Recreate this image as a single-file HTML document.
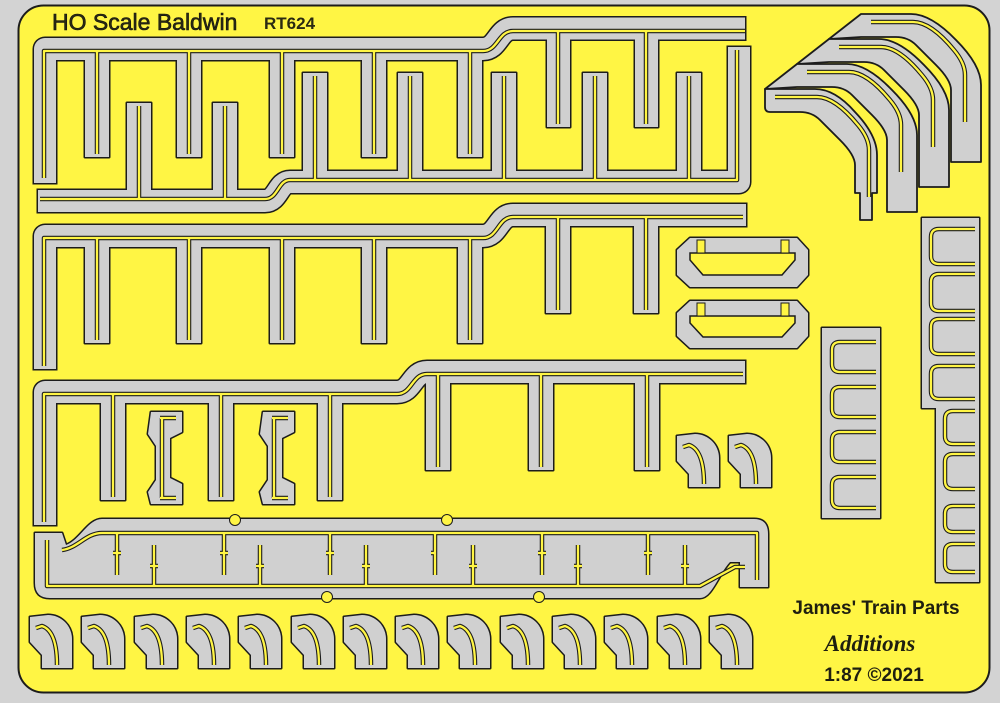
<!DOCTYPE html>
<html><head><meta charset="utf-8"><style>
html,body{margin:0;padding:0;background:#d3d3d3}
svg{display:block}
text{font-family:"Liberation Sans",sans-serif}
</style></head><body>
<svg width="1000" height="703" viewBox="0 0 1000 703" xmlns="http://www.w3.org/2000/svg">
<defs>
<path id="el" d="M0,2 L18,0 A24,24 0 0 1 42,24 L42,53 L12,53 L12,40 L0,27 Z"/>
<path id="pk" d="M733,114 L765,89 L815,89 Q835,89 860,115 Q885,140 885,160 L885,237 L855,237 L855,165 Q855,155 840,140 L820,120 Q812,112 800,112 L765,112 Z"/>
<g id="bars">
<path d="M45,172 L45,49 L483,49 C498,49 498,28.5 513,28.5 L734,28.5"/>
<path d="M49,201 L265,201 C278,201 278,182 290,182 L739,182 L739,58"/>
<path d="M45,358 L45,236 L483,236 C498,236 498,215 513,215 L735,215"/>
<path d="M45,514 L45,392 L397,392 C412,392 412,372 427,372 L734,372"/>
</g>
<g id="parts">
<rect x="85" y="49" width="24" height="108"/><rect x="177" y="49" width="24" height="108"/><rect x="270" y="49" width="24" height="108"/><rect x="362" y="49" width="24" height="108"/><rect x="458" y="49" width="24" height="108"/>
<rect x="547" y="28" width="23" height="99"/><rect x="635" y="28" width="23" height="99"/>
<rect x="127" y="103" width="24" height="98"/><rect x="213" y="103" width="24" height="98"/>
<rect x="303" y="73" width="24" height="109"/><rect x="398" y="73" width="24" height="109"/><rect x="492" y="73" width="24" height="109"/><rect x="583" y="73" width="24" height="109"/><rect x="677" y="73" width="24" height="109"/>
<rect x="85" y="236" width="24" height="107"/><rect x="177" y="236" width="24" height="107"/><rect x="270" y="236" width="24" height="107"/><rect x="362" y="236" width="24" height="107"/><rect x="458" y="236" width="24" height="107"/>
<rect x="546" y="215" width="24" height="98"/><rect x="634" y="215" width="24" height="98"/>
<rect x="101" y="392" width="24" height="108"/><rect x="209" y="392" width="24" height="108"/><rect x="318" y="392" width="24" height="108"/>
<rect x="426" y="372" width="24" height="98"/><rect x="529" y="372" width="24" height="98"/><rect x="635" y="372" width="24" height="98"/>
<polygon points="151,412 182,412 182,432 170,438 170,478 182,484 182,504 151,504 148,492 156,480 156,446 148,434"/>
<polygon points="263,412 294,412 294,432 282,438 282,478 294,484 294,504 263,504 260,492 268,480 268,446 260,434"/>
<polygon points="690,238 797,238 808,250 808,275 797,287 690,287 677,275 677,250"/>
<polygon points="690,301 797,301 808,313 808,336 797,348 690,348 677,336 677,313"/>
<path d="M35,533 L62,533 L66,545 C80,540 88,519 102,519 L754,519 Q768,519 768,534 L768,587 L740,587 L740,562 L730,562 C718,575 712,598 700,598 L50,598 Q35,598 35,583 Z"/>
<rect x="822" y="328" width="58" height="190"/>
<polygon points="922,218 979,218 979,582 936,582 936,408 922,408"/>
<use href="#el" x="677" y="434"/><use href="#el" x="729" y="434"/>
<use href="#el" x="30" y="615"/><use href="#el" x="82" y="615"/><use href="#el" x="135" y="615"/><use href="#el" x="187" y="615"/><use href="#el" x="239" y="615"/><use href="#el" x="292" y="615"/><use href="#el" x="344" y="615"/><use href="#el" x="396" y="615"/><use href="#el" x="448" y="615"/><use href="#el" x="501" y="615"/><use href="#el" x="553" y="615"/><use href="#el" x="605" y="615"/><use href="#el" x="658" y="615"/><use href="#el" x="710" y="615"/>
</g>
<path id="ely" d="M6,13 L12,11 Q27,16 27,50"/>
<g id="ylines">
<path d="M44,178 L44,51 L483,51 C498,51 498,31 513,31 L745,31"/>
<path d="M97,51 L97,154 M189,51 L189,154 M282,51 L282,154 M374,51 L374,154 M470,51 L470,154 M558,31 L558,124 M646,31 L646,124"/>
<path d="M40,199 L265,199 C278,199 278,180 290,180 L737,180 L737,50"/>
<path d="M139,199 L139,106 M225,199 L225,106 M315,180 L315,76 M410,180 L410,76 M504,180 L504,76 M595,180 L595,76 M689,180 L689,76"/>
<path d="M44,366 L44,238 L483,238 C498,238 498,217 513,217 L743,217"/>
<path d="M97,238 L97,340 M189,238 L189,340 M282,238 L282,340 M374,238 L374,340 M470,238 L470,340 M558,217 L558,310 M646,217 L646,310"/>
<path d="M44,522 L44,394 L397,394 C412,394 412,374 427,374 L743,374"/>
<path d="M113,394 L113,497 M221,394 L221,497 M330,394 L330,497 M438,374 L438,467 M541,374 L541,467 M647,374 L647,467"/>
<path d="M62,550 C78,548 86,533 102,533 L757,533 L757,580"/>
<path d="M47,540 L47,586 L700,586 L735,567 L745,567"/>
<path d="M117,533 L117,575 M224,533 L224,575 M330,533 L330,575 M435,533 L435,575 M542,533 L542,575 M648,533 L648,575 M113,553 L121,553 M220,553 L228,553 M326,553 L334,553 M431,553 L435,553 M538,553 L546,553 M644,553 L652,553"/>
<path d="M154,586 L154,545 M260,586 L260,545 M366,586 L366,545 M473,586 L473,545 M578,586 L578,545 M685,586 L685,545 M150,566 L158,566 M256,566 L264,566 M362,566 L370,566 M469,566 L477,566 M574,566 L582,566 M681,566 L689,566"/>
<path d="M160,418 L176,418 M162,418 L162,498 M160,498 L176,498 M272,418 L288,418 M274,418 L274,498 M272,498 L288,498"/>
<path d="M876,342 L840,342 Q832,342 832,350 L832,364 Q832,372 840,372 L876,372 M876,387 L840,387 Q832,387 832,395 L832,409 Q832,417 840,417 L876,417 M876,432 L840,432 Q832,432 832,440 L832,454 Q832,462 840,462 L876,462 M876,477 L840,477 Q832,477 832,485 L832,500 Q832,508 840,508 L876,508"/>
<path d="M975,229 L939,229 Q931,229 931,237 L931,256 Q931,264 939,264 L975,264 M975,274 L939,274 Q931,274 931,282 L931,303 Q931,311 939,311 L975,311 M975,319 L939,319 Q931,319 931,327 L931,346 Q931,354 939,354 L975,354 M975,366 L939,366 Q931,366 931,374 L931,391 Q931,399 939,399 L975,399"/>
<path d="M975,411 L953,411 Q945,411 945,419 L945,436 Q945,444 953,444 L975,444 M975,454 L953,454 Q945,454 945,462 L945,481 Q945,489 953,489 L975,489 M975,506 L953,506 Q945,506 945,514 L945,524 Q945,532 953,532 L975,532 M975,544 L953,544 Q945,544 945,552 L945,564 Q945,572 953,572 L975,572"/>
<use href="#ely" x="677" y="434"/><use href="#ely" x="729" y="434"/>
<use href="#ely" x="30" y="615"/><use href="#ely" x="82" y="615"/><use href="#ely" x="135" y="615"/><use href="#ely" x="187" y="615"/><use href="#ely" x="239" y="615"/><use href="#ely" x="292" y="615"/><use href="#ely" x="344" y="615"/><use href="#ely" x="396" y="615"/><use href="#ely" x="448" y="615"/><use href="#ely" x="501" y="615"/><use href="#ely" x="553" y="615"/><use href="#ely" x="605" y="615"/><use href="#ely" x="658" y="615"/><use href="#ely" x="710" y="615"/>
</g>
<path id="yk" d="M775,97 L817,97 Q835,97 858,125 Q869,138 869,150 L869,197"/>
</defs>

<rect x="18.5" y="5.5" width="971" height="687" rx="25" fill="#fff544" stroke="#1c1c1c" stroke-width="2"/>

<use href="#bars" fill="none" stroke="#1c1c1c" stroke-width="25" stroke-linecap="square" stroke-linejoin="round"/>
<use href="#parts" fill="#1c1c1c" stroke="#1c1c1c" stroke-width="3" stroke-linejoin="round"/>
<use href="#bars" fill="none" stroke="#d0d0d0" stroke-width="22" stroke-linecap="square" stroke-linejoin="round"/>
<use href="#parts" fill="#d0d0d0"/>

<g fill="#d0d0d0" stroke="#1c1c1c" stroke-width="1.8" stroke-linejoin="round">
<use href="#pk" transform="translate(96,-75)"/>
<use href="#pk" transform="translate(64,-50)"/>
<use href="#pk" transform="translate(32,-25)"/>
<path d="M765,89 L815,89 Q835,89 855,112 Q877,135 877,155 L877,193 L872,193 L872,220 L860,220 L860,193 L855,193 L855,165 Q855,155 840,140 L820,120 Q812,112 800,112 L770,112 Q765,112 765,107 Z"/>
</g>
<g fill="none" stroke-linejoin="round">
<g stroke="#1c1c1c" stroke-width="4.5">
<use href="#yk"/><use href="#yk" transform="translate(32,-25)"/><use href="#yk" transform="translate(64,-50)"/><use href="#yk" transform="translate(96,-75)"/>
</g>
<g stroke="#fff544" stroke-width="2.3">
<use href="#yk"/><use href="#yk" transform="translate(32,-25)"/><use href="#yk" transform="translate(64,-50)"/><use href="#yk" transform="translate(96,-75)"/>
</g>
</g>

<polygon points="690,253 795,253 795,260 782,275 703,275 690,260" fill="#fff544" stroke="#1c1c1c" stroke-width="1.5"/>
<polygon points="690,316 795,316 795,323 782,337 703,337 690,323" fill="#fff544" stroke="#1c1c1c" stroke-width="1.5"/>
<g fill="#fff544" stroke="#1c1c1c" stroke-width="1">
<rect x="697" y="240" width="8" height="13"/><rect x="781" y="240" width="8" height="13"/>
<rect x="697" y="303" width="8" height="13"/><rect x="781" y="303" width="8" height="13"/>
<circle cx="235" cy="520" r="5.5"/><circle cx="447" cy="520" r="5.5"/>
<circle cx="327" cy="597" r="5.5"/><circle cx="539" cy="597" r="5.5"/>
</g>

<use href="#ylines" fill="none" stroke="#1c1c1c" stroke-width="4.5" stroke-linejoin="round"/>
<use href="#ylines" fill="none" stroke="#fff544" stroke-width="2.3" stroke-linejoin="round"/>

<text x="52" y="30" font-size="23" fill="#2a2a12" stroke="#111" stroke-width="0.6">HO Scale Baldwin</text>
<text x="264" y="29" font-size="17" font-weight="bold" fill="#2a2a12">RT624</text>
<text x="876" y="614" font-size="19" font-weight="bold" fill="#1e1e10" text-anchor="middle">James' Train Parts</text>
<text x="870" y="651" font-size="23" font-weight="bold" font-style="italic" fill="#1e1e10" text-anchor="middle" style="font-family:'Liberation Serif',serif">Additions</text>
<text x="874" y="681" font-size="19" font-weight="bold" fill="#1e1e10" text-anchor="middle">1:87 ©2021</text>
</svg>
</body></html>
